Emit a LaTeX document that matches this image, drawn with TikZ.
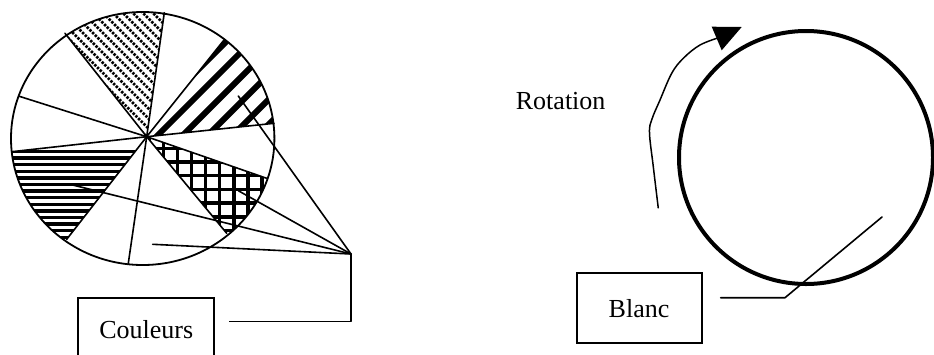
\documentclass[tikz,border=0pt]{standalone}
\usepackage{fontspec}
\setmainfont{Liberation Serif}
\usetikzlibrary{calc}
\begin{document}
\begin{tikzpicture}[x=1pt,y=-1pt,
  thin line/.style={line width=1.6pt, line cap=round, line join=round},
  label box/.style={draw, line width=1.8pt, inner sep=0pt, font=\fontsize{26}{30}\selectfont},
  plain text/.style={inner sep=0pt, font=\fontsize{26}{30}\selectfont},
  wheel rim/.style={x radius=131.7pt, y radius=126.5pt}]
\useasboundingbox (0,0) rectangle (934,354);
\clip (0,0) rectangle (934,354);

% ---------- colour wheel ----------
\coordinate (pc)  at (142.7,138.5);
\coordinate (hub) at (146.7,136.7);
\coordinate (ra) at (65,33.3);
\coordinate (rb) at (164.3,12.7);
\coordinate (rc) at (224,40);
\coordinate (rd) at (274,123.3);
\coordinate (re) at (19,96.2);
\coordinate (rf) at (11.7,151.7);
\coordinate (rg) at (66.7,239.3);
\coordinate (rh) at (128.3,263.3);
\coordinate (ri) at (226.7,233.3);
\coordinate (rj) at (266.7,178.3);

% dotted diagonal stripes
\begin{scope}
  \clip (pc) ellipse [wheel rim];
  \clip (hub) -- ($(hub)!2!(ra)$) -- ($(hub)!2!(rb)$) -- cycle;
  \foreach \k in {-120,-110,...,200}
    \draw[line width=2.8pt, dash pattern=on 2.4pt off 1.4pt] (\k,0) -- (\k+200,200);
\end{scope}

% wide black stripes
\begin{scope}
  \clip (pc) ellipse [wheel rim];
  \clip (hub) -- ($(hub)!2!(rc)$) -- ($(hub)!2!(rd)$) -- cycle;
  \foreach \k in {143,168,...,468}
    \draw[line width=6pt] (\k,0) -- (\k-300,300);
\end{scope}

% horizontal stripes
\begin{scope}
  \clip (pc) ellipse [wheel rim];
  \clip (hub) -- ($(hub)!2!(rf)$) -- ($(hub)!2!(rg)$) -- cycle;
  \foreach \i in {0,...,16}
    \draw[line width=3.3pt] (0,{151.5+6.6*\i}) -- (170,{151.5+6.6*\i});
\end{scope}

% cross-hatching
\begin{scope}
  \clip (pc) ellipse [wheel rim];
  \clip (hub) -- ($(hub)!2!(rj)$) -- ($(hub)!2!(ri)$) -- cycle;
  \foreach \i in {-2,...,10}
    \draw[line width=3.5pt] ({163.3+14.1*\i},120) -- ++(0,140);
  \foreach \i in {-2,...,9}
    \draw[line width=3.5pt] (130,{148.3+13.7*\i}) -- ++(170,0);
\end{scope}

% spokes and rim
\foreach \p in {ra,rb,rc,rd,re,rf,rg,rh,ri,rj}
  \draw[thin line] (hub) -- (\p);
\draw[line width=1.8pt] (pc) ellipse [wheel rim];

% leaders to the label
\coordinate (conv) at (351,254);
\coordinate (la) at (238.3,96);
\coordinate (lb) at (238.3,190.7);
\coordinate (lc) at (72.7,185);
\coordinate (ld) at (152.7,244.3);
\coordinate (bend) at (351,321.5);
\coordinate (lend) at (229,321.5);
\draw[thin line] (la) -- (conv);
\draw[thin line] (lb) -- (conv);
\draw[thin line] (lc) -- (conv);
\draw[thin line] (ld) -- (conv);
\draw[thin line, line cap=butt] (conv) -- (bend) -- (lend);

\node[label box, minimum width=135.8pt, minimum height=63pt, anchor=north west]
  (couleurs) at (77.4,296.7) {Couleurs};

% ---------- white disc ----------
\draw[line width=4pt] (806,157.5) ellipse [x radius=127pt, y radius=126.5pt];

\node[plain text, anchor=base west] (rotation) at (515.7,109) {Rotation};

% rotation arrow
\draw[line width=1.5pt] plot[smooth, tension=0.6] coordinates
  {(658.3,208.3) (653.3,166.7) (649.5,133) (652,119) (660,100)
   (671.7,73.3) (683.3,58.3) (700,45) (720,37.3)};
\fill (711.7,26.7) -- (741.7,27) -- (721.7,50.3) -- cycle;

\node[label box, line width=2pt, minimum width=125pt, minimum height=70pt]
  (blanc) at (639,308.3) {Blanc};

\coordinate (bl1) at (720.7,297.7);
\coordinate (bl2) at (785,297.7);
\coordinate (bl3) at (882,217);
\draw[thin line] (bl1) -- (bl2) -- (bl3);
\end{tikzpicture}
\end{document}
